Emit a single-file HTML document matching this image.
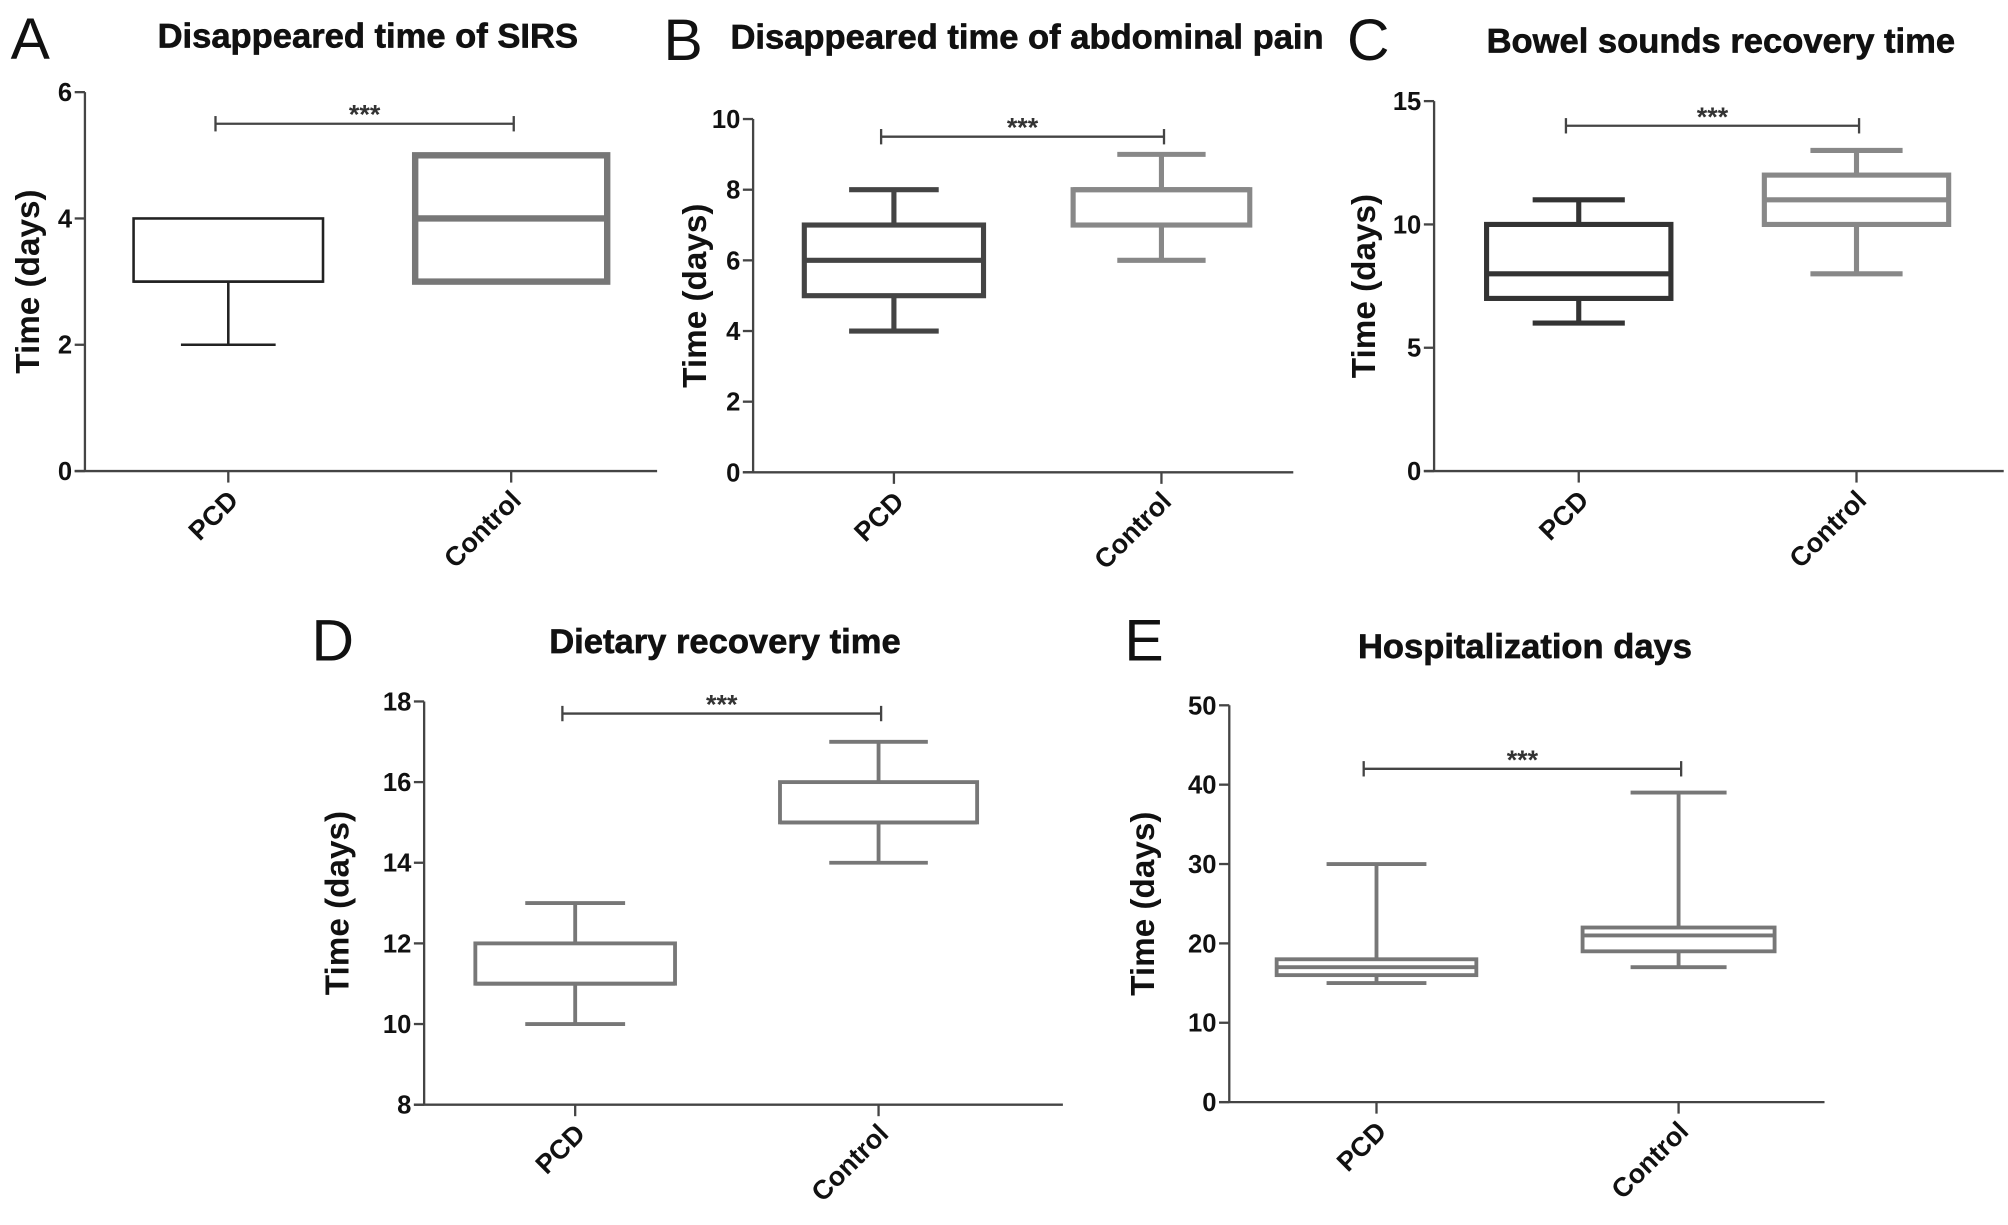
<!DOCTYPE html>
<html><head><meta charset="utf-8"><style>
html,body{margin:0;padding:0;background:#fff;}
svg{display:block;font-family:"Liberation Sans",Arial,sans-serif;}
</style></head><body>
<svg id="fig" width="2008" height="1225" viewBox="0 0 1568 957" xmlns="http://www.w3.org/2000/svg"></svg>
<script>
// Data arrays: [min, q1, median, q3, max] for PCD and Control
const categories = ["PCD", "Control"];
const panelLetters = ["A", "B", "C", "D", "E"];
const panelTitles = ["Disappeared time of SIRS", "Disappeared time of abdominal pain", "Bowel sounds recovery time", "Dietary recovery time", "Hospitalization days"];
const pcdA = [2, 3, 3, 4, 4];
const ctlA = [3, 3, 4, 5, 5];
const pcdB = [4, 5, 6, 7, 8];
const ctlB = [6, 7, 8, 8, 9];
const pcdC = [6, 7, 8, 10, 11];
const ctlC = [8, 10, 11, 12, 13];
const pcdD = [10, 11, 11, 12, 13];
const ctlD = [14, 15, 15, 16, 17];
const pcdE = [15, 16, 17, 18, 30];
const ctlE = [17, 19, 21, 22, 39];
const ticksA = [0, 2, 4, 6];
const ticksB = [0, 2, 4, 6, 8, 10];
const ticksC = [0, 5, 10, 15];
const ticksD = [8, 10, 12, 14, 16, 18];
const ticksE = [0, 10, 20, 30, 40, 50];
const sigLevels = [5.5, 9.5, 14, 17.7, 42];

const NS = "http://www.w3.org/2000/svg";
const svg = document.getElementById("fig");
function mk(tag, attrs, parent) {
  const e = document.createElementNS(NS, tag);
  for (const k in attrs) e.setAttribute(k, attrs[k]);
  (parent || svg).appendChild(e);
  return e;
}
const layouts = [
  {ax:66, top:72, bot:368, xend:513, cx:[178,399], hw:[74,75], ymin:0, ymax:6, ticks:ticksA, pcd:pcdA, ctl:ctlA, col:["#222","#777"], sw:[2,5], letter:[8,46], title:[287,37], ylab:20},
  {ax:588, top:93, bot:369, xend:1010, cx:[698,907], hw:[70,69], ymin:0, ymax:10, ticks:ticksB, pcd:pcdB, ctl:ctlB, col:["#444","#888"], sw:[4,4], letter:[518,47], title:[802,38], ylab:541},
  {ax:1120, top:79, bot:368, xend:1565, cx:[1233,1450], hw:[72,72], ymin:0, ymax:15, ticks:ticksC, pcd:pcdC, ctl:ctlC, col:["#333","#888"], sw:[4,4], letter:[1052,47], title:[1344,41], ylab:1064},
  {ax:331, top:548, bot:863, xend:830, cx:[449,686], hw:[78,77], ymin:8, ymax:18, ticks:ticksD, pcd:pcdD, ctl:ctlD, col:["#777","#777"], sw:[3,3], letter:[243,516], title:[566,510], ylab:262},
  {ax:960, top:551, bot:861, xend:1425, cx:[1075,1311], hw:[78,75], ymin:0, ymax:50, ticks:ticksE, pcd:pcdE, ctl:ctlE, col:["#777","#777"], sw:[3,3], letter:[878,516], title:[1191,514], ylab:891}
];
layouts.forEach((L, i) => {
  const g = mk("g", {});
  
  
  const y = v => L.bot - (v - L.ymin) / (L.ymax - L.ymin) * (L.bot - L.top);
  const letter = mk("text", {x:L.letter[0], y:L.letter[1], "font-size":46, fill:"#111"}, g);
  letter.textContent = panelLetters[i];
  
  
  const t = mk("text", {x:L.title[0], y:L.title[1], "font-size":27, "font-weight":"bold", "text-anchor":"middle", fill:"#111", stroke:"#111", "stroke-width":0.5}, g);
  t.textContent = panelTitles[i];
  
  
  const ya = mk("line", {x1:L.ax, y1:L.top, x2:L.ax, y2:L.bot, stroke:"#444", "stroke-width":1.8}, g);
  
  
  const xa = mk("line", {x1:L.ax - 8, y1:L.bot, x2:L.xend, y2:L.bot, stroke:"#444", "stroke-width":1.8}, g);
  
  
  L.ticks.forEach(tv => {
    mk("line", {x1:L.ax - 8, y1:y(tv), x2:L.ax, y2:y(tv), stroke:"#444", "stroke-width":1.8}, g);
    const tl = mk("text", {x:L.ax - 10, y:y(tv) + 7, "font-size":20, "font-weight":"bold", "text-anchor":"end", fill:"#111"}, g);
    tl.textContent = tv;
    
    
  });
  const yl = mk("text", {x:0, y:0, "font-size":26, "font-weight":"bold", "text-anchor":"middle", fill:"#111", transform:`translate(${L.ylab + 10},${(L.top + L.bot) / 2}) rotate(-90)`}, g);
  yl.textContent = "Time (days)";
  
  
  [L.pcd, L.ctl].forEach((d, j) => {
    const cx = L.cx[j], hw = L.hw[j], col = L.col[j], sw = L.sw[j];
    mk("line", {x1:cx, y1:L.bot, x2:cx, y2:L.bot + 9, stroke:"#444", "stroke-width":1.8}, g);
    const xl = mk("text", {x:0, y:0, "font-size":21, "font-weight":"bold", "text-anchor":"end", fill:"#111", transform:`translate(${cx + 9},${L.bot + 24}) rotate(-45)`}, g);
    xl.textContent = categories[j];
    
    
    const bg = mk("g", {stroke:col, "stroke-width":sw, fill:"none"}, g);
    
    
    mk("line", {x1:cx, y1:y(d[0]), x2:cx, y2:y(d[1])}, bg);
    mk("line", {x1:cx, y1:y(d[3]), x2:cx, y2:y(d[4])}, bg);
    if (d[0] < d[1]) mk("line", {x1:cx - hw / 2, y1:y(d[0]), x2:cx + hw / 2, y2:y(d[0])}, bg);
    if (d[4] > d[3]) mk("line", {x1:cx - hw / 2, y1:y(d[4]), x2:cx + hw / 2, y2:y(d[4])}, bg);
    mk("rect", {x:cx - hw, y:y(d[3]), width:2 * hw, height:y(d[1]) - y(d[3])}, bg);
    mk("line", {x1:cx - hw, y1:y(d[2]), x2:cx + hw, y2:y(d[2])}, bg);
  });
  const sy = y(sigLevels[i]);
  const sg = mk("g", {stroke:"#444", "stroke-width":1.8}, g);
  
  
  mk("line", {x1:L.cx[0] - 10, y1:sy, x2:L.cx[1] + 2, y2:sy}, sg);
  mk("line", {x1:L.cx[0] - 10, y1:sy - 6, x2:L.cx[0] - 10, y2:sy + 6}, sg);
  mk("line", {x1:L.cx[1] + 2, y1:sy - 6, x2:L.cx[1] + 2, y2:sy + 6}, sg);
  const st = mk("text", {x:(L.cx[0] + L.cx[1]) / 2 - 4, y:sy, "font-size":21, "font-weight":"bold", "text-anchor":"middle", fill:"#333"}, g);
  st.textContent = "***";
  
  
});
</script>
</body></html>
